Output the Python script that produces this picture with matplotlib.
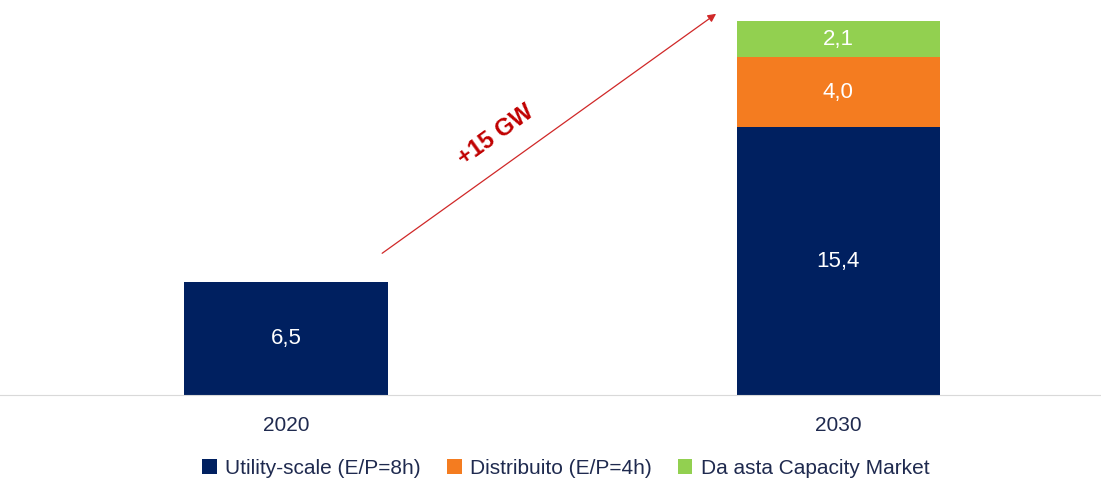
import numpy as np
import matplotlib.pyplot as plt

plt.rcParams['font.family'] = ['Liberation Sans', 'DejaVu Sans']

years = ['2020', '2030']
utility = [6.5, 15.4]
distribuito = [0, 4.0]
capacity = [0, 2.1]
labels = ['Utility-scale (E/P=8h)', 'Distribuito (E/P=4h)', 'Da asta Capacity Market']
colors = ['#002060', '#F47C20', '#92D050']

fig = plt.figure(figsize=(11.01, 4.79), dpi=100)
ax = fig.add_axes([0, 0.1754, 1, 0.8246])

x = np.arange(len(years))
w = 0.368
bottom = np.zeros(len(years))
for vals, col, lab in zip([utility, distribuito, capacity], colors, labels):
    vals = np.array(vals)
    ax.bar(x, vals, w, bottom=bottom, color=col, label=lab)
    for xi, v, b in zip(x, vals, bottom):
        if v > 0:
            ax.text(xi, b + v / 2, f'{v:.1f}'.replace('.', ','), ha='center', va='center',
                    color='white', fontsize=16)
    bottom += vals

ax.set_xlim(-0.518, 1.476)
ax.set_ylim(0, 22.7)
ax.set_xticks(x)
ax.set_xticklabels(years, fontsize=15, color='#1F2A4F')
ax.tick_params(axis='x', length=0, pad=15)
ax.set_yticks([])
for s in ['top', 'right', 'left']:
    ax.spines[s].set_visible(False)
ax.spines['bottom'].set_color('#D9D9D9')

ax.annotate('', xy=(0.783, 22.0), xytext=(0.170, 8.05),
            arrowprops=dict(arrowstyle='-|>', color='#D02828', lw=0.9, mutation_scale=12))
ax.text(0.38, 14.95, '+15 GW', rotation=35.7, color='#C00000', fontsize=17,
        fontweight='bold', ha='center', va='center')

fig.legend(loc='lower center', bbox_to_anchor=(0.514, -0.037), ncol=3, frameon=False,
           fontsize=15, handlelength=0.7, handleheight=0.7, handletextpad=0.4,
           columnspacing=1.25, labelcolor='#1F2A4F')

fig.savefig('out.png', dpi=100)
